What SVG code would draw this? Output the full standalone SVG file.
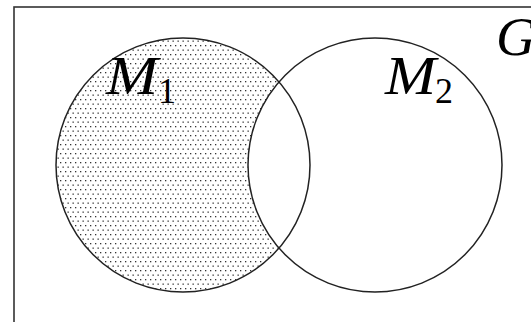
<svg xmlns="http://www.w3.org/2000/svg" width="531" height="322" viewBox="0 0 531 322">
<style>
.frame{fill:none;stroke:#333;stroke-width:1.6}
.set{stroke:#222;stroke-width:1.5}
.lbl{font-family:"Liberation Serif","Times New Roman",serif;font-style:italic;fill:#000}
.sub{font-family:"Liberation Serif","Times New Roman",serif;fill:#000}
</style>
<defs>
<pattern id="dots" patternUnits="userSpaceOnUse" width="5" height="9">
<rect x="0" y="0" width="1.3" height="1.3" fill="#333"/>
<rect x="2.5" y="4.5" width="1.3" height="1.3" fill="#333"/>
</pattern>
<clipPath id="outside2">
<path d="M0,0H531V322H0Z M375,38 a127,127 0 1,0 0.01,0Z" clip-rule="evenodd"/>
</clipPath>
</defs>
<rect width="531" height="322" fill="#fff"/>
<g id="universe">
<rect class="frame" x="14" y="7" width="540" height="340"/>
<text class="lbl" x="496" y="55" font-size="55">G</text>
</g>
<g id="M1">
<circle cx="183" cy="165" r="127" fill="url(#dots)" clip-path="url(#outside2)"/>
<circle class="set" cx="183" cy="165" r="127" fill="none"/>
<text class="lbl" x="106" y="94" font-size="54" textLength="52" lengthAdjust="spacingAndGlyphs">M</text>
<text class="sub" x="158" y="103" font-size="36">1</text>
</g>
<g id="M2">
<circle class="set" cx="375" cy="165" r="127" fill="none"/>
<text class="lbl" x="385" y="94" font-size="54" textLength="51" lengthAdjust="spacingAndGlyphs">M</text>
<text class="sub" x="435" y="103" font-size="36">2</text>
</g>
<g id="connectors"></g>
</svg>
